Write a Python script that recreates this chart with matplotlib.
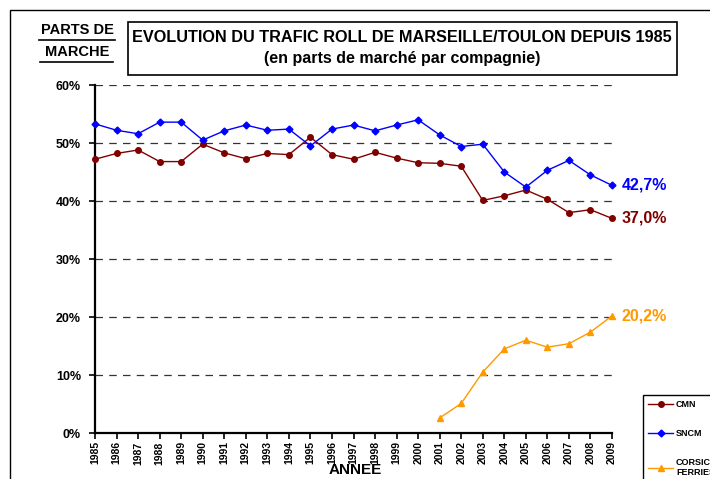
import matplotlib
matplotlib.use("Agg")
import matplotlib.pyplot as plt
from matplotlib.lines import Line2D
from matplotlib.patches import Rectangle

plt.rcParams['font.family'] = ['Liberation Sans', 'DejaVu Sans']

years = list(range(1985, 2010))
sncm = [53.3, 52.2, 51.6, 53.6, 53.6, 50.5, 52.1, 53.1, 52.2, 52.4, 49.5, 52.4, 53.1,
        52.1, 53.1, 54.0, 51.4, 49.4, 49.8, 45.0, 42.4, 45.3, 47.0, 44.5, 42.7]
cmn = [47.2, 48.2, 48.8, 46.8, 46.8, 49.8, 48.3, 47.3, 48.2, 48.0, 51.0, 48.0, 47.2,
       48.4, 47.4, 46.6, 46.5, 46.0, 40.1, 40.9, 41.9, 40.3, 38.0, 38.5, 37.0]
cf_years = list(range(2001, 2010))
corsica = [2.6, 5.1, 10.5, 14.5, 16.0, 14.8, 15.4, 17.4, 20.2]

c_cmn = '#800000'
c_sncm = '#0000FF'
c_cf = '#FF9900'

fig = plt.figure(figsize=(7.1, 4.79), dpi=100)
ax = fig.add_axes([0.1338, 0.096, 0.7282, 0.7265])

# outer frame
fig.patches.append(Rectangle((10/710, -0.1), 1.0, 1 - 10/479 + 0.1, transform=fig.transFigure,
                             fill=False, edgecolor='black', linewidth=1.0))

for v in [0.1, 0.2, 0.3, 0.4, 0.5, 0.6]:
    ax.axhline(v, color='#333333', linestyle=(0, (6, 5)), linewidth=0.9, zorder=1)

ax.plot(years, [v / 100 for v in cmn], color=c_cmn, marker='o', markersize=4,
        linewidth=1.0, label='CMN', clip_on=False, zorder=3)
ax.plot(years, [v / 100 for v in sncm], color=c_sncm, marker='D', markersize=3.5,
        linewidth=1.0, label='SNCM', clip_on=False, zorder=3)
ax.plot(cf_years, [v / 100 for v in corsica], color=c_cf, marker='^', markersize=5,
        linewidth=1.0, label='CORSICA\nFERRIES', clip_on=False, zorder=3)

ax.text(years[-1] + 0.45, sncm[-1] / 100, '42,7%', color=c_sncm, fontsize=11.5,
        fontweight='bold', va='center', ha='left')
ax.text(years[-1] + 0.45, cmn[-1] / 100, '37,0%', color=c_cmn, fontsize=11.5,
        fontweight='bold', va='center', ha='left')
ax.text(years[-1] + 0.45, corsica[-1] / 100, '20,2%', color=c_cf, fontsize=11.5,
        fontweight='bold', va='center', ha='left')

ax.set_xlim(1985, 2009)
ax.set_ylim(0, 0.6)
ax.set_yticks([0, 0.1, 0.2, 0.3, 0.4, 0.5, 0.6])
ax.set_yticklabels(['0%', '10%', '20%', '30%', '40%', '50%', '60%'],
                   fontsize=9, fontweight='bold')
ax.set_xticks(years)
ax.set_xticklabels([str(y) for y in years], rotation=90, fontsize=7.5, fontweight='bold')
ax.tick_params(axis='both', direction='out', length=4, width=1.2, pad=2)
ax.tick_params(axis='y', pad=6)

for s in ['top', 'right']:
    ax.spines[s].set_visible(False)
for s in ['left', 'bottom']:
    ax.spines[s].set_linewidth(1.6)

fig.text(355/710, 1 - 470/479, 'ANNEE', fontsize=11, fontweight='bold',
         ha='center', va='center')

# title box
fig.patches.append(Rectangle((128/710, 1 - 75/479), 549/710, 53/479, transform=fig.transFigure,
                             fill=False, edgecolor='black', linewidth=1.2))
fig.text(402/710, 1 - 38/479, 'EVOLUTION DU TRAFIC ROLL DE MARSEILLE/TOULON DEPUIS 1985',
         fontsize=11.7, fontweight='bold', ha='center', va='center')
fig.text(402/710, 1 - 59/479, '(en parts de marché par compagnie)',
         fontsize=11.5, fontweight='bold', ha='center', va='center')

fig.text(77/710, 1 - 30/479, 'PARTS DE', fontsize=10.5, fontweight='bold', ha='center', va='center')
fig.text(77/710, 1 - 52/479, 'MARCHE', fontsize=10.5, fontweight='bold', ha='center', va='center')
fig.lines.append(Line2D([39/710, 115/710], [1 - 40/479, 1 - 40/479], transform=fig.transFigure,
                        color='black', linewidth=1.2))
fig.lines.append(Line2D([40/710, 113/710], [1 - 62/479, 1 - 62/479], transform=fig.transFigure,
                        color='black', linewidth=1.2))

leg = fig.legend(loc='upper left', bbox_to_anchor=(638/710, 1 - 390/479),
                 prop={'size': 6.5, 'weight': 'bold'}, labelspacing=2.2,
                 handlelength=2.8, handletextpad=0.3, borderpad=0.6, fancybox=False,
                 edgecolor='black', framealpha=1)
leg.get_frame().set_linewidth(1.0)

fig.savefig('out.png', dpi=100)
